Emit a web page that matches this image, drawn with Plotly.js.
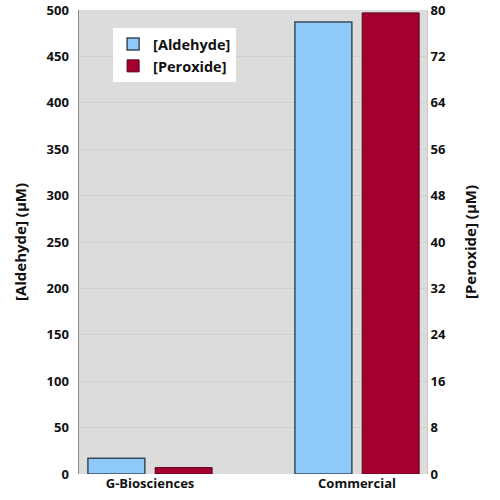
<!DOCTYPE html>
<html>
<head>
<meta charset="utf-8">
<script src="https://cdn.plot.ly/plotly-2.35.2.min.js"></script>
<style>
  html, body { margin: 0; padding: 0; background: #fff; }
  #chart { width: 500px; height: 500px; }
</style>
</head>
<body>
<div id="chart"></div>
<script>
// values
const sources = ['G-Biosciences', 'Commercial'];
const aldehydeValues = [17, 487];   // µM, left axis
const peroxideValues = [1.1, 79.5]; // µM, right axis
const aldehydeTicks = [0, 50, 100, 150, 200, 250, 300, 350, 400, 450, 500];
const peroxideTicks = [0, 8, 16, 24, 32, 40, 48, 56, 64, 72, 80];

(function () {
  const font = { family: '"Open Sans", "DejaVu Sans", sans-serif', color: '#111' };

  const traces = [{
    type: 'bar',
    name: '[Aldehyde]',
    x: sources,
    y: aldehydeValues,
    yaxis: 'y',
    width: 0.275,
    offset: -0.3,
    marker: { color: '#8ec9f9', line: { color: '#3a4b5c', width: 1.5 } }
  }, {
    type: 'bar',
    name: '[Peroxide]',
    x: sources,
    y: peroxideValues,
    yaxis: 'y2',
    width: 0.275,
    offset: 0.025,
    marker: { color: '#a3002f', line: { color: '#5a0018', width: 1 } }
  }];

  const layout = {
    width: 500,
    height: 500,
    margin: { l: 79, r: 73, t: 10, b: 26 },
    paper_bgcolor: '#ffffff',
    plot_bgcolor: '#dcdcdc',
    font: Object.assign({ size: 13, weight: 'bold' }, font),
    showlegend: true,
    legend: {
      x: 0.098, y: 0.961, xanchor: 'left', yanchor: 'top',
      bgcolor: '#ffffff',
      borderwidth: 0,
      font: Object.assign({ size: 14.5, weight: 'bold' }, font),
      itemwidth: 30
    },
    xaxis: {
      type: 'category',
      range: [-0.343, 1.338],
      showgrid: false,
      showline: false,
      ticks: '',
      tickfont: Object.assign({ size: 13, weight: 'bold' }, font),
      fixedrange: true
    },
    yaxis: {
      range: [0, 500],
      tickvals: aldehydeTicks,
      showgrid: true,
      gridcolor: '#d0d0d0',
      gridwidth: 1,
      zeroline: false,
      showline: true,
      linecolor: '#8a8a8a',
      linewidth: 1.5,
      ticks: '',
      ticklabelstandoff: 6,
      tickfont: Object.assign({ size: 13, weight: 'bold' }, font),
      title: { text: '[Aldehyde] (µM)', standoff: 16, font: Object.assign({ size: 15, weight: 'bold' }, font) }
    },
    yaxis2: {
      overlaying: 'y',
      side: 'right',
      range: [0, 80],
      tickvals: peroxideTicks,
      showgrid: false,
      zeroline: false,
      showline: true,
      linecolor: '#c8c8c8',
      ticks: '',
      tickfont: Object.assign({ size: 13, weight: 'bold' }, font),
      title: { text: '[Peroxide] (µM)', standoff: 20, font: Object.assign({ size: 15, weight: 'bold' }, font) }
    },
    bargap: 0.4
  };

  Plotly.newPlot('chart', traces, layout, { staticPlot: true, displayModeBar: false });
})();
</script>
</body>
</html>
